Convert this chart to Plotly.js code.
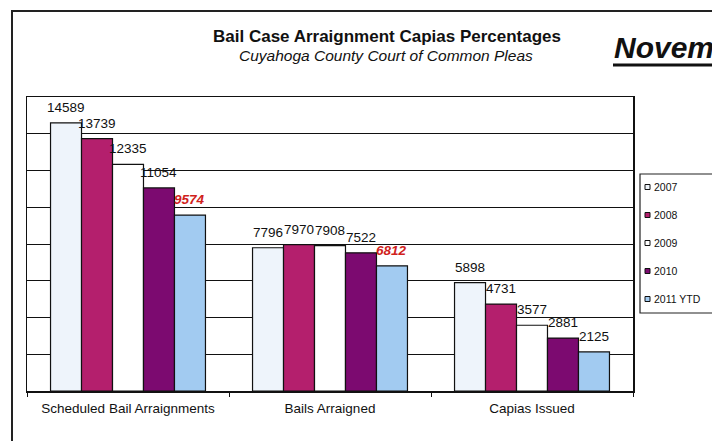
<!DOCTYPE html>
<html>
<head>
<meta charset="utf-8">
<script src="https://cdn.plot.ly/plotly-3.0.1.min.js"></script>
<style>html,body{margin:0;padding:0;background:#fff;}#chart{width:712px;height:441px;}</style>
</head>
<body>
<div id="chart"></div>
<script>
const categories = ['Scheduled Bail Arraignments', 'Bails Arraigned', 'Capias Issued'];
const seriesNames = ['2007', '2008', '2009', '2010', '2011 YTD'];
const v2007 = [14589, 7796, 5898];
const v2008 = [13739, 7970, 4731];
const v2009 = [12335, 7908, 3577];
const v2010 = [11054, 7522, 2881];
const v2011 = [9574, 6812, 2125];
const highlight2011 = [true, true, false];
const seriesValues = [v2007, v2008, v2009, v2010, v2011];
const seriesColors = ['#eef4fb', '#b41f6d', '#ffffff', '#7c0a70', '#a2cbf1'];

const FONT = 'Liberation Sans, Arial, sans-serif';
const BARGAP = 0.233;
const PLOT_W = 606;

const traces = seriesValues.map((vals, k) => ({
  type: 'bar',
  name: seriesNames[k],
  x: categories,
  y: vals,
  marker: {color: seriesColors[k], line: {color: '#111', width: 1.2}},
  hoverinfo: 'x+y',
  showlegend: false
}));

const shapes = [];
const annotations = [];

// value labels above each bar, positioned on the data scale
const barW = PLOT_W / categories.length * (1 - BARGAP) / seriesValues.length;
seriesValues.forEach((vals, k) => {
  vals.forEach((v, i) => {
    const red = (k === 4 && highlight2011[i]);
    annotations.push({
      xref: 'x', yref: 'y', x: categories[i], y: v,
      xanchor: 'center', yanchor: 'bottom', showarrow: false,
      xshift: (k - 2) * barW, yshift: 6,
      text: red ? '<b><i>' + v + '</i></b>' : String(v),
      font: {family: FONT, size: 13.5, color: red ? '#d0221c' : '#111'}
    });
  });
});

// page frame
shapes.push({type: 'rect', xref: 'paper', yref: 'paper', x0: -15/606, x1: 2, y0: -1, y1: (391-11)/294,
  line: {color: '#222', width: 2}});
// side wall line
shapes.push({type: 'line', xref: 'paper', yref: 'y', x0: 25/606, x1: 25/606, y0: 0, y1: 14000,
  line: {color: '#111', width: 1}, layer: 'below'});
// underline for the month heading
shapes.push({type: 'line', xref: 'paper', yref: 'paper', x0: (613-27)/606, x1: 2, y0: (391-65)/294, y1: (391-65)/294,
  line: {color: '#111', width: 3}});

// titles
annotations.push({xref: 'paper', yref: 'paper', x: (387-27)/606, y: (391-36)/294, xanchor: 'center', yanchor: 'middle',
  text: '<b>Bail Case Arraignment Capias Percentages</b>', showarrow: false,
  font: {family: FONT, size: 17, color: '#111'}});
annotations.push({xref: 'paper', yref: 'paper', x: (386-27)/606, y: (391-55)/294, xanchor: 'center', yanchor: 'middle',
  text: '<i>Cuyahoga County Court of Common Pleas</i>', showarrow: false,
  font: {family: FONT, size: 15.5, color: '#111'}});
annotations.push({xref: 'paper', yref: 'paper', x: (612-27)/606, y: (391-47)/294, xanchor: 'left', yanchor: 'middle',
  text: '<b><i>November 2011</i></b>', showarrow: false,
  font: {family: FONT, size: 30, color: '#111'}});

// legend (manual, built from series arrays)
const legTop = 174, legBottom = 313, legLeft = 640, legStep = 28, legFirst = 187;
shapes.push({type: 'rect', xref: 'paper', yref: 'paper', x0: (legLeft-27)/606, x1: 2,
  y0: (391-legBottom)/294, y1: (391-legTop)/294, line: {color: '#222', width: 1.2}, fillcolor: '#fff'});
seriesNames.forEach((nm, k) => {
  const cy = legFirst + k*legStep;
  shapes.push({type: 'rect', xref: 'paper', yref: 'paper',
    x0: (645-27)/606, x1: (650-27)/606, y0: (391-(cy+2.5))/294, y1: (391-(cy-2.5))/294,
    fillcolor: seriesColors[k], line: {color: '#111', width: 1}});
  annotations.push({xref: 'paper', yref: 'paper', x: (652-27)/606, y: (391-cy)/294, xanchor: 'left', yanchor: 'middle',
    text: nm, showarrow: false, font: {family: FONT, size: 10.5, color: '#111'}});
});

const layout = {
  width: 712, height: 441,
  margin: {l: 27, r: 79, t: 97, b: 50, pad: 0},
  paper_bgcolor: '#fff', plot_bgcolor: '#fff',
  barmode: 'group', bargap: BARGAP, bargroupgap: 0,
  showlegend: false,
  xaxis: {
    type: 'category', showgrid: false, showline: true, linecolor: '#111', linewidth: 1.5, mirror: true,
    ticks: 'outside', tickson: 'boundaries', ticklen: 4, tickcolor: '#111', ticklabelstandoff: 4,
    tickfont: {family: FONT, size: 13.5, color: '#111'}, fixedrange: true
  },
  yaxis: {
    range: [0, 16000], dtick: 2000, showgrid: true, gridcolor: '#111', gridwidth: 1,
    showticklabels: false, ticks: '', zeroline: false, showline: true, linecolor: '#111', linewidth: 1.5, mirror: true,
    fixedrange: true
  },
  shapes: shapes,
  annotations: annotations
};

Plotly.newPlot('chart', traces, layout, {displayModeBar: false, staticPlot: true});
</script>
</body>
</html>
